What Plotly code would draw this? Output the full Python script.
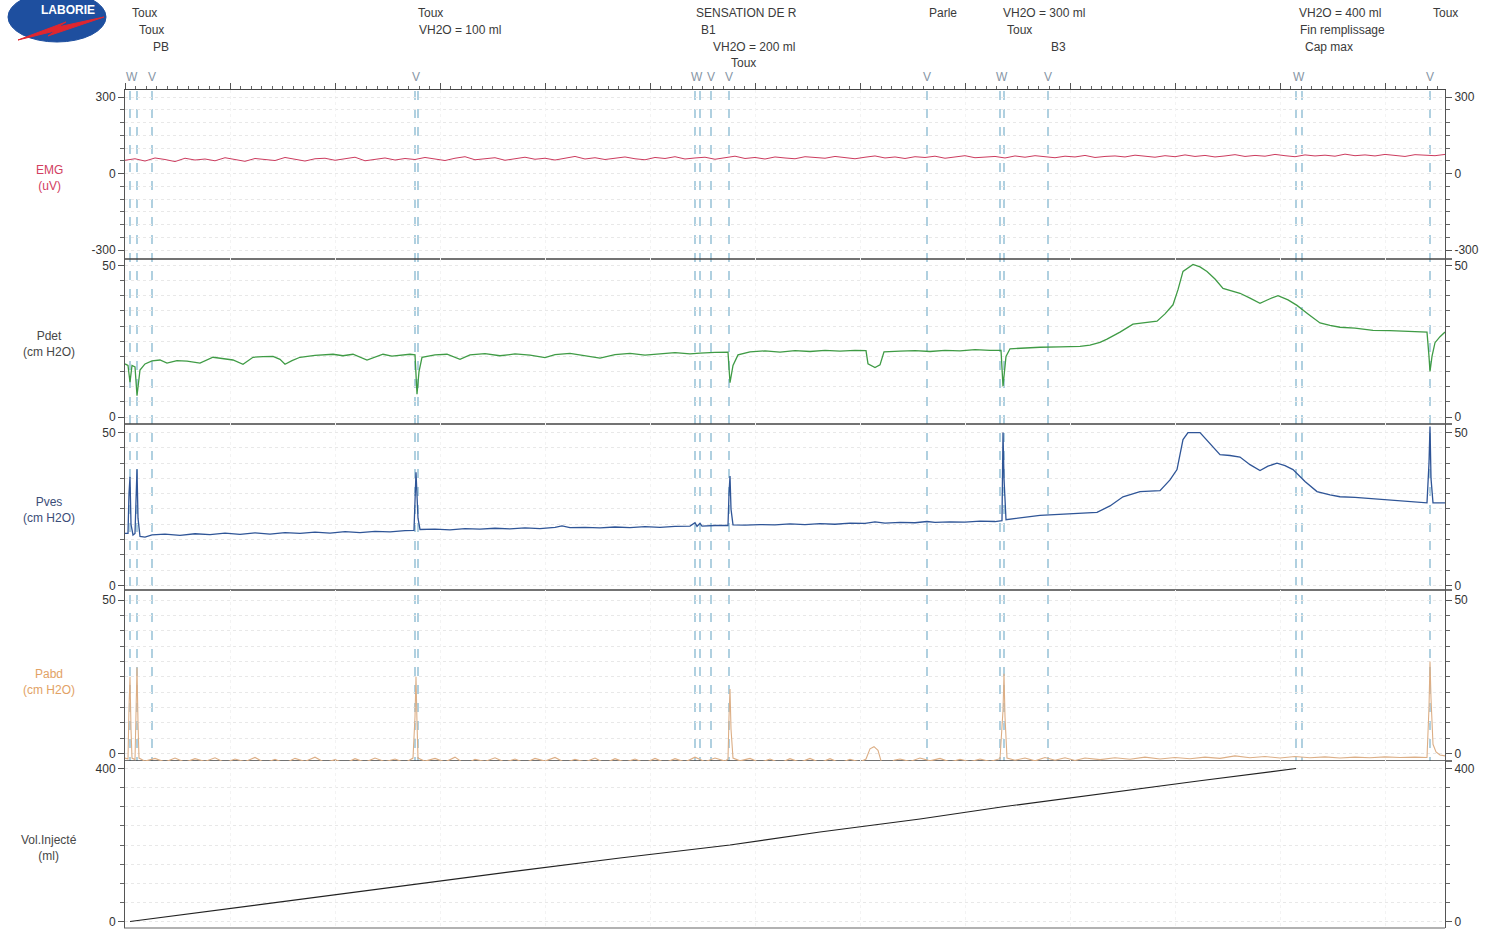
import plotly.graph_objects as go

# ---------------- recorded channels (time in s) ----------------
EMG_T = list(range(0, 1321, 10))
EMG_V = [52, 58, 49, 61, 55, 47, 60, 53, 57, 50,
         62, 54, 48, 59, 56, 51, 63, 55, 49, 58,
         60, 52, 57, 64, 50, 56, 61, 53, 59, 55,
         63, 57, 51, 60, 66, 54, 58, 62, 52, 59,
         64, 56, 60, 53, 61, 67, 57, 62, 55, 60,
         65, 58, 54, 63, 59, 66, 57, 61, 64, 56,
         62, 68, 59, 63, 57, 65, 61, 58, 66, 62,
         60, 67, 63, 58, 64, 69, 61, 65, 59, 66,
         63, 68, 60, 66, 70, 62, 65, 67, 61, 69,
         64, 70, 66, 62, 68, 65, 71, 63, 67, 69,
         65, 72, 68, 64, 70, 66, 73, 67, 71, 65,
         69, 74, 67, 71, 68, 75, 70, 66, 73, 69,
         72, 68, 76, 70, 73, 69, 75, 71, 67, 74,
         72, 70, 75]

PDET = [(0, 17.5), (3, 17), (5, 11.5), (7, 17), (10, 16.5), (12, 7), (15, 15.5), (20, 17.5),
        (27, 18.5), (35, 18.8), (42, 17.8), (52, 18.6), (62, 18.4), (75, 17.8), (88, 19.7),
        (98, 19.2), (108, 18.8), (118, 17.4), (128, 19.7), (138, 19.9), (148, 20), (155, 19),
        (160, 17.4), (167, 18.6), (175, 19.7), (190, 20.3), (208, 20.7), (218, 20.2), (228, 20.7),
        (242, 18.8), (250, 19.8), (258, 20.7), (267, 20.1), (275, 20.4), (285, 20.7), (290, 20.5),
        (292, 7.5), (294, 15), (297, 19.7), (310, 20.5), (322, 20.7), (335, 19), (345, 20.5),
        (360, 20.9), (375, 20.2), (390, 20.8), (405, 20.4), (420, 19.6), (430, 20.6), (445, 21),
        (460, 20.3), (475, 19.4), (490, 20.6), (505, 21), (520, 20.4), (535, 20.9), (550, 21.2),
        (565, 20.8), (575, 21.1), (590, 21.3), (603, 21.4), (605, 11.3), (608, 17), (613, 20.5),
        (625, 21.5), (640, 21.8), (655, 21.4), (670, 21.9), (685, 21.6), (700, 22), (715, 21.7),
        (730, 22), (741, 21.9), (743, 17.5), (750, 16.3), (755, 17.2), (759, 21.5), (775, 21.7),
        (790, 21.9), (805, 21.6), (820, 22), (835, 21.8), (850, 22.2), (865, 22), (876, 22),
        (878, 10.2), (881, 20), (885, 22.5), (900, 22.8), (915, 23), (935, 23.1), (955, 23.3),
        (965, 23.7), (975, 24.6), (982, 25.7), (995, 28), (1008, 30.6), (1020, 31.2),
        (1032, 31.6), (1040, 34), (1048, 37), (1053, 42), (1058, 48), (1068, 50.3),
        (1075, 49.5), (1082, 48), (1090, 45.5), (1098, 42.4), (1107, 41.5), (1115, 40.8),
        (1125, 39.2), (1135, 37.5), (1145, 39), (1153, 40), (1163, 38.6), (1172, 36.8),
        (1183, 34), (1195, 31), (1205, 30.2), (1215, 29.6), (1230, 29.3), (1248, 28.6),
        (1265, 28.5), (1285, 28.2), (1302, 28), (1304, 20), (1305, 15), (1307, 20),
        (1310, 24.5), (1315, 26.5), (1320, 28)]

PVES = [(0, 17), (3, 17), (4, 30), (5, 35.5), (6, 20), (8, 16.5), (10, 17), (11, 28), (12, 38),
        (13, 22), (15, 16), (20, 15.8), (27, 16.5), (40, 16.8), (55, 16.4), (70, 16.9),
        (85, 16.6), (100, 17.1), (115, 16.7), (130, 17.2), (145, 16.8), (160, 17.3), (175, 17),
        (190, 17.4), (205, 17.1), (220, 17.6), (235, 17.3), (250, 17.7), (265, 17.5),
        (280, 17.9), (289, 18), (291, 37), (293, 22), (295, 18.3), (310, 18.4), (325, 18.2),
        (340, 18.6), (355, 18.4), (370, 18.7), (385, 18.5), (400, 18.8), (415, 18.6), (430, 19),
        (437, 19.5), (445, 18.9), (460, 19), (475, 18.8), (490, 19.1), (505, 18.9), (520, 19.2),
        (535, 19), (550, 19.3), (565, 19.4), (570, 20.5), (572, 19.3), (575, 20.3), (577, 19.4),
        (590, 19.6), (603, 19.6), (604, 30), (605, 35.8), (606, 25), (608, 19.8), (620, 19.7),
        (635, 19.9), (650, 19.8), (665, 20.1), (680, 19.9), (695, 20.2), (710, 20), (725, 20.4),
        (740, 20.3), (750, 20.8), (760, 20.4), (775, 20.6), (790, 20.5), (802, 20.9),
        (810, 20.6), (825, 20.8), (840, 20.7), (855, 21), (870, 20.9), (877, 21.2), (878, 50),
        (879, 35), (881, 21.5), (890, 21.8), (905, 22.5), (915, 22.9), (935, 23.2), (955, 23.5),
        (972, 23.9), (985, 26), (998, 29), (1015, 30.7), (1027, 30.8), (1035, 31),
        (1045, 34.5), (1052, 37.9), (1058, 47.7), (1063, 50), (1075, 50), (1085, 46.5),
        (1095, 42.8), (1105, 42.5), (1115, 42), (1125, 39.5), (1135, 37.6), (1143, 39),
        (1152, 40), (1160, 39.2), (1168, 37.9), (1180, 34), (1192, 30.7), (1205, 29.6),
        (1215, 29), (1230, 28.8), (1248, 28.4), (1265, 27.9), (1285, 27.5), (1302, 27),
        (1304, 40), (1305, 52), (1306, 35), (1308, 27), (1320, 27)]

PABD = [(0, -1.5), (3, -1.8), (4, 15), (5, 25), (6, 8), (7, -1.5), (10, -2), (11, 18), (12, 28),
        (13, 10), (14, -1.5), (20, -2.5), (30, -1.6), (40, -2.8), (50, -1.5), (60, -2.9),
        (70, -1.7), (80, -2.6), (90, -1.4), (100, -3), (110, -1.8), (120, -2.7), (130, -1.3),
        (140, -3.1), (150, -1.9), (160, -3.2), (170, -1.6), (180, -2.6), (190, -1.2), (200, -3),
        (210, -2), (220, -3.3), (230, -1.7), (240, -2.9), (250, -1.5), (260, -2.7), (270, -1.8),
        (280, -3), (288, -1.5), (290, 12), (291, 25), (292, 10), (293, -1.5), (300, -2.5),
        (310, -1.6), (320, -2.8), (330, -1.2), (340, -3.5), (350, -1.9), (360, -2.6),
        (370, -1.4), (380, -2.9), (390, -1.8), (400, -3.1), (410, -1.6), (420, -2.5),
        (430, -1.3), (440, -3), (450, -1.9), (460, -2.8), (470, -1.5), (480, -3.2), (490, -1.7),
        (500, -2.9), (510, -1.8), (520, -3.1), (530, -1.6), (540, -3), (550, -1.7), (560, -2.8),
        (570, -1.2), (580, -2.7), (590, -1.5), (600, -2.5), (603, -1.8), (604, 12), (605, 21),
        (606, 8), (608, -1.5), (615, -2.4), (625, -1.6), (635, -3), (645, -1.8), (655, -3.1),
        (665, -1.7), (675, -2.9), (685, -1.6), (695, -3), (705, -1.7), (715, -3.1), (725, -1.9),
        (735, -2.8), (741, -1.8), (745, 1.5), (749, 2.2), (753, 1), (757, -3.5), (763, -4),
        (769, -2.2), (775, -1.8), (785, -2.6), (795, -1.5), (805, -2.4), (815, -1.6),
        (825, -2.8), (835, -1.9), (845, -2.7), (855, -1.8), (865, -2.6), (875, -1.7), (878, 14),
        (879, 26), (880, 12), (882, -1.5), (890, -2.2), (900, -1.5), (910, -2.4), (920, -1.3),
        (930, -2.2), (940, -1.4), (950, -2.3), (960, -1.5), (975, -2), (990, -1.4), (1005, -1.9),
        (1020, -1.2), (1035, -1.8), (1050, -1.3), (1065, -1.7), (1080, -1.2), (1095, -1.6),
        (1110, -0.8), (1125, -1.4), (1140, -1), (1155, -1.5), (1170, -1), (1185, -1.4),
        (1200, -1.1), (1215, -1.5), (1230, -1.2), (1245, -1.4), (1260, -1.1), (1275, -1.3),
        (1290, -1.2), (1302, -1.3), (1304, 15), (1305, 30), (1306, 18), (1308, 3), (1311, 0.5),
        (1315, -0.5), (1320, -0.8)]

VOL = [(5, 0), (125, 41), (205, 69), (290, 98), (395, 133), (495, 166), (605, 200),
       (695, 234), (795, 268), (878, 300), (975, 334), (1075, 368), (1171, 400)]

# event marks (s) and their symbols / comments
EVENT_T = [5, 12, 27, 290, 293, 570, 575, 586, 604, 802, 875, 879, 923, 1171, 1177, 1305]
EVENT_MARKS = [(7, "W"), (27, "V"), (291, "V"), (572, "W"), (586, "V"), (604, "V"), (802, "V"),
               (877, "W"), (923, "V"), (1174, "W"), (1305, "V")]
COMMENTS = [(5, 0, "Toux"), (12, 1, "Toux"), (26, 2, "PB"),
            (291, 0, "Toux"), (292, 1, "VH2O = 100 ml"),
            (569, 0, "SENSATION DE R"), (574, 1, "B1"), (586, 2, "VH2O = 200 ml"), (604, 3, "Toux"),
            (802, 0, "Parle"),
            (876, 0, "VH2O = 300 ml"), (880, 1, "Toux"), (924, 2, "B3"),
            (1172, 0, "VH2O = 400 ml"), (1173, 1, "Fin remplissage"), (1178, 2, "Cap max"),
            (1306, 0, "Toux")]

# scale labels of the EMG channel
EMG_TICKS = [-300, 0, 300]
EMG_TICK_TEXT = ["-300", "0", "300"]

# ---------------- page geometry ----------------
W_PX, H_PX = 1486, 937
ML, MR, MT, MB = 125, 41, 90, 9
PW = W_PX - ML - MR
PH = H_PX - MT - MB
FONT = "Liberation Sans, Arial, sans-serif"


def fx(px):
    return (px - ML) / PW


def fy(py):
    return (H_PX - MB - py) / PH


panels = [
    dict(dom=(90, 259), rng=[-335, 327.5], major=300, minor=50,
         label="EMG<br>(uV)", lc="#d2405f", tv=EMG_TICKS, tt=EMG_TICK_TEXT),
    dict(dom=(259, 424), rng=[-2.3, 52.1], major=50, minor=5,
         label="Pdet<br>(cm H2O)", lc="#474747"),
    dict(dom=(424, 590), rng=[-1.5, 52.8], major=50, minor=5,
         label="Pves<br>(cm H2O)", lc="#3b4d78"),
    dict(dom=(590, 768.5), rng=[-4.9, 53.3], major=50, minor=5,
         label="Pabd<br>(cm H2O)", lc="#e2a265"),
    dict(dom=(761, 928), rng=[-17, 419.6], major=400, minor=50,
         label="Vol.Injecté<br>(ml)", lc="#474747"),
]


def yaxis_cfg(p, side, overlay=None):
    d = dict(domain=[fy(p["dom"][1]), fy(p["dom"][0])], range=p["rng"], anchor="x", side=side,
             showline=True, linecolor="#555", linewidth=1, ticks="outside", ticklen=6,
             tickcolor="#555", tickmode="linear", tick0=0, dtick=p["major"],
             tickfont=dict(family=FONT, size=12, color="#333"), automargin=False,
             showgrid=(side == "left"), gridcolor="#e8e8e8", griddash="dot",
             zeroline=False, fixedrange=True,
             minor=dict(tickmode="linear", tick0=0, dtick=p["minor"], ticks="outside", ticklen=4,
                        tickcolor="#666", showgrid=(side == "left"), gridcolor="#e8e8e8",
                        griddash="dot", gridwidth=1))
    if "tv" in p:
        d.update(tickmode="array", tickvals=p["tv"], ticktext=p["tt"])
    if overlay:
        d["overlaying"] = overlay
    return d


fig = go.Figure()


def add_line(pairs_t, pairs_v, axis, color, width):
    fig.add_trace(go.Scatter(x=pairs_t, y=pairs_v, mode="lines", xaxis="x", yaxis=axis,
                             line=dict(color=color, width=width), hoverinfo="skip",
                             showlegend=False))


add_line(EMG_T, EMG_V, "y", "#cc3b5e", 1)
for data, ax, col, w in [(PDET, "y2", "#3f9b45", 1.3), (PVES, "y3", "#2f5597", 1.3),
                         (PABD, "y4", "#dcae85", 1.1), (VOL, "y5", "#222222", 1.2)]:
    t, v = zip(*data)
    add_line(list(t), list(v), ax, col, w)

# empty traces so every right-hand scale is drawn
for i in range(6, 11):
    fig.add_trace(go.Scatter(x=[], y=[], xaxis="x", yaxis=f"y{i}", showlegend=False))

layout_axes = {}
for i, p in enumerate(panels):
    left_name = "yaxis" if i == 0 else f"yaxis{i + 1}"
    left_ref = "y" if i == 0 else f"y{i + 1}"
    layout_axes[left_name] = yaxis_cfg(p, "left")
    layout_axes[f"yaxis{i + 6}"] = yaxis_cfg(p, "right", overlay=left_ref)

shapes = []
# event lines
for t in EVENT_T:
    shapes.append(dict(type="line", xref="x", yref="paper", x0=t, x1=t, y0=0, y1=1,
                       line=dict(color="#86b7d0", width=1.3, dash="dash"), layer="below"))
# channel separators
for py in [259, 424, 590, 761]:
    shapes.append(dict(type="line", xref="paper", yref="paper", x0=fx(124), x1=fx(1452),
                       y0=fy(py), y1=fy(py), line=dict(color="#444", width=1.6), layer="below"))
shapes.append(dict(type="line", xref="paper", yref="paper", x0=fx(124), x1=fx(1445),
                   y0=fy(928), y1=fy(928), line=dict(color="#666", width=1.2)))

# logo
shapes.append(dict(type="circle", xref="paper", yref="paper", x0=fx(8), x1=fx(106),
                   y0=fy(42), y1=fy(-8), fillcolor="#1e4f9f", line=dict(color="#1e4f9f", width=1)))
bolt = [(104, 17), (58, 27), (66, 22), (18, 40), (55, 31), (48, 36)]
path = "M " + " L ".join(f"{fx(a):.5f},{fy(b):.5f}" for a, b in bolt) + " Z"
shapes.append(dict(type="path", xref="paper", yref="paper", path=path,
                   fillcolor="#e0262f", line=dict(color="#e0262f", width=1)))

annotations = [dict(xref="paper", yref="paper", x=fx(68), y=fy(10), text="<b>LABORIE</b>",
                    xanchor="center", yanchor="middle", showarrow=False,
                    font=dict(family=FONT, size=12, color="white"))]

for p in panels:
    annotations.append(dict(xref="paper", yref="paper", x=fx(49),
                            y=fy((p["dom"][0] + p["dom"][1]) / 2 + 3), text=p["label"],
                            xanchor="center", yanchor="middle",
                            showarrow=False, align="center",
                            font=dict(family=FONT, size=12, color=p["lc"])))

for t, s in EVENT_MARKS:
    annotations.append(dict(xref="x", yref="paper", x=t, y=fy(77), text=s, showarrow=False,
                            xanchor="center", yanchor="middle",
                            font=dict(family=FONT, size=12, color="#8796a6")))

for t, row, s in COMMENTS:
    annotations.append(dict(xref="x", yref="paper", x=t, y=fy(13 + 16.8 * row), text=s,
                            showarrow=False, xanchor="left", yanchor="middle",
                            font=dict(family=FONT, size=12, color="#3a3a3a")))

fig.update_layout(
    width=W_PX, height=H_PX,
    margin=dict(l=ML, r=MR, t=MT, b=MB, pad=0, autoexpand=False),
    paper_bgcolor="white", plot_bgcolor="white",
    font=dict(family=FONT, size=12, color="#333"),
    showlegend=False,
    xaxis=dict(domain=[0, 1], range=[0, 1320], anchor="y", side="top", showline=True,
               linecolor="#444", linewidth=1.2, ticks="outside", ticklen=6, tickcolor="#555",
               tickmode="linear", tick0=0, dtick=105, showticklabels=False, automargin=False,
               showgrid=True, gridcolor="#f3f3f3", griddash="dot", zeroline=False,
               fixedrange=True,
               minor=dict(ticks="outside", ticklen=3, tickmode="linear", tick0=0, dtick=10.5,
                          tickcolor="#666", showgrid=False)),
    shapes=shapes,
    annotations=annotations,
    **layout_axes,
)

fig.write_html("out.html")
